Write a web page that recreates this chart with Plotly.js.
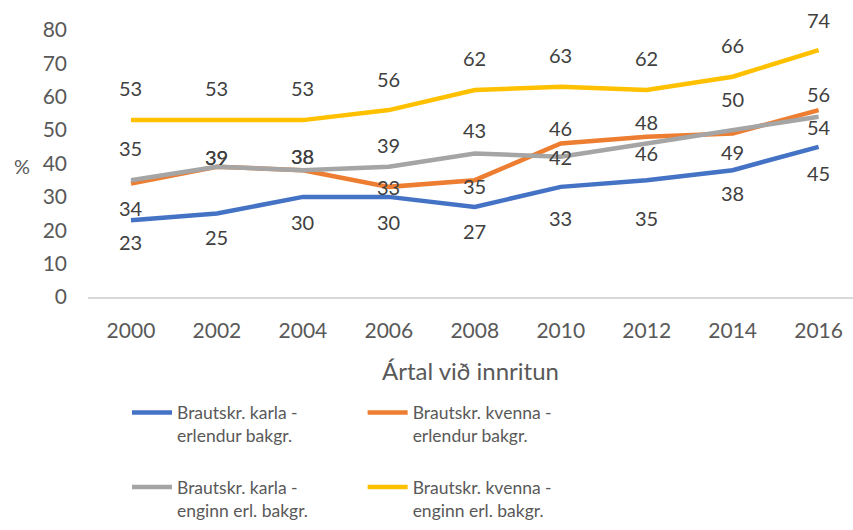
<!DOCTYPE html>
<html>
<head>
<meta charset="utf-8">
<script src="https://cdn.plot.ly/plotly-3.0.1.min.js"></script>
<style>html,body{margin:0;padding:0;background:#fff;}#chart{width:853px;height:530px;}</style>
</head>
<body>
<div id="chart"></div>
<script>
// ---- data ----
const years = ['2000','2002','2004','2006','2008','2010','2012','2014','2016'];
const seriesNames = [
  'Brautskr. karla -<br>erlendur bakgr.',
  'Brautskr. kvenna -<br>erlendur bakgr.',
  'Brautskr. karla -<br>enginn erl. bakgr.',
  'Brautskr. kvenna -<br>enginn erl. bakgr.'
];
const karlaErlendur = [23,25,30,30,27,33,35,38,45];
const kvennaErlendur = [34,39,38,33,35,46,48,49,56];
const karlaEnginn = [35,39,38,39,43,42,46,50,54];
const kvennaEnginn = [53,53,53,56,62,63,62,66,74];
const yTicks = [0,10,20,30,40,50,60,70,80];

// ---- styling (label offsets in px, positive = above) ----
const colors = ['#4472C4','#ED7D31','#A5A5A5','#FFC000'];
const legendOf = ['legend','legend2','legend','legend2'];
const labelShift = [
  [-22,-23,-25,-25,-24,-31,-38,-23,-26],
  [-24,10,14,0,-6,15,15,-19,16],
  [32,10,14,22,23,0,-10,31,-10],
  [32,32,32,31,32,32,32,32,30]
];
const allSeries = [karlaErlendur, kvennaErlendur, karlaEnginn, kvennaEnginn];
const FONT = 'Lato, Open Sans, sans-serif';

const traces = allSeries.map((vals,i)=>({
  type:'scatter', mode:'lines', x:years, y:vals, name:seriesNames[i],
  legend:legendOf[i], legendgroup:'g'+i,
  line:{color:colors[i], width:4.5}, hoverinfo:'skip'
}));

const annotations = [];
allSeries.forEach((vals,i)=>{
  vals.forEach((v,j)=>{
    annotations.push({xref:'x', yref:'y', x:j, y:v, text:String(v), showarrow:false,
      yshift:labelShift[i][j], font:{family:FONT, size:20, color:'#404040'}});
  });
});
annotations.push({xref:'paper', yref:'paper', x:-0.1, y:0.49, text:'%', showarrow:false,
  font:{family:FONT, size:20, color:'#595959'}});

const legendBase = {orientation:'v', xanchor:'left', y:-0.366, yanchor:'top',
  valign:'top', traceorder:'grouped', tracegroupgap:26, itemwidth:40,
  font:{family:FONT, size:17.5, color:'#595959'}};

const layout = {
  width:853, height:530,
  margin:{l:88, r:0, t:30, b:233},
  paper_bgcolor:'#fff', plot_bgcolor:'#fff',
  showlegend:true,
  xaxis:{type:'category', range:[-0.5,8.4], showgrid:false, zeroline:false,
    showline:true, linecolor:'#d9d9d9', linewidth:1.5, ticks:'',
    ticklabelstandoff:14,
    tickfont:{family:FONT, size:21, color:'#595959'},
    title:{text:'Ártal við innritun', standoff:22, font:{family:FONT, size:24, color:'#595959'}}},
  yaxis:{range:[0,80], tickvals:yTicks, showgrid:false, zeroline:false, showline:false,
    ticks:'', ticklabelstandoff:20,
    tickfont:{family:FONT, size:21, color:'#595959'}},
  legend:Object.assign({}, legendBase, {x:0.051}),
  legend2:Object.assign({}, legendBase, {x:0.359}),
  annotations:annotations
};

Plotly.newPlot('chart', traces, layout, {staticPlot:true, displayModeBar:false});
</script>
</body>
</html>
